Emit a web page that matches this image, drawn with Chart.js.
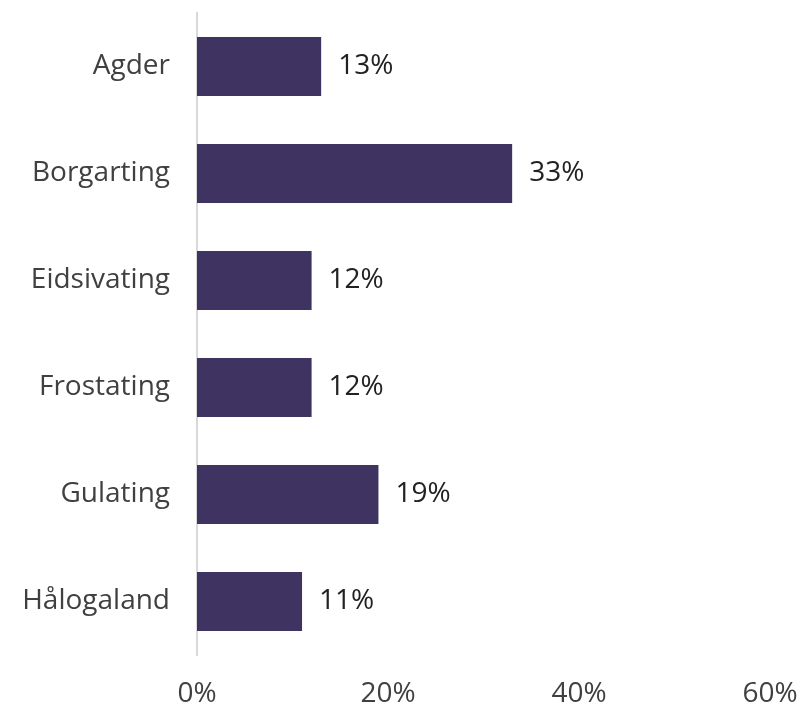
<!DOCTYPE html>
<html>
<head>
<meta charset="utf-8">
<script src="https://cdn.jsdelivr.net/npm/chart.js@4.4.0/dist/chart.umd.min.js"></script>
<style>
  html, body { margin: 0; padding: 0; background: #ffffff; }
  #wrap { width: 800px; height: 705px; }
</style>
</head>
<body>
<div id="wrap"><canvas id="barChart"></canvas></div>
<script>
const regions = ['Agder', 'Borgarting', 'Eidsivating', 'Frostating', 'Gulating', 'Hålogaland']
const shares = [13, 33, 12, 12, 19, 11]
const xTicks = [0, 20, 40, 60]

const FONT = '"Open Sans", sans-serif'

// draws "13%" etc. to the right of every bar
const valueLabels = {
    id: 'valueLabels',
    afterDatasetsDraw(chart) {
        const ctx = chart.ctx
        const meta = chart.getDatasetMeta(0)
        ctx.save()
        ctx.font = '28px ' + FONT
        ctx.fillStyle = '#222222'
        ctx.textAlign = 'left'
        ctx.textBaseline = 'middle'
        meta.data.forEach(function(bar, i) {
            ctx.fillText(shares[i] + '%', bar.x + 17, bar.y)
        })
        ctx.restore()
    }
}

const canvasBar = document.getElementById('barChart')
new Chart(canvasBar, {
    type: 'bar',
    data: {
        labels: regions,
        datasets: [{
            data: shares,
            backgroundColor: '#3f3461',
            categoryPercentage: 1,
            barPercentage: 0.55
        }]
    },
    options: {
        indexAxis: 'y',
        responsive: true,
        maintainAspectRatio: false,
        animation: false,
        layout: { padding: { top: 13, right: 30, left: 0, bottom: 0 } },
        plugins: {
            legend: { display: false },
            tooltip: { enabled: false }
        },
        scales: {
            x: {
                min: 0,
                max: 60,
                afterBuildTicks: function(scale) {
                    scale.ticks = xTicks.map(function(v) { return { value: v } })
                },
                grid: { display: false, drawTicks: false },
                border: { display: false },
                ticks: {
                    padding: 22,
                    color: '#404040',
                    font: { family: FONT, size: 28 },
                    callback: function(v) { return v + '%' }
                },
                afterFit: function(scale) {
                    scale.height = 50
                    scale.paddingLeft = 0
                    scale.paddingRight = 0
                }
            },
            y: {
                grid: { display: false, drawTicks: false },
                border: { display: true, color: '#d9d9d9', width: 2 },
                ticks: {
                    padding: 27,
                    color: '#404040',
                    font: { family: FONT, size: 28 }
                },
                afterFit: function(scale) {
                    scale.width = 197
                    scale.paddingTop = 0
                    scale.paddingBottom = 0
                }
            }
        }
    },
    plugins: [valueLabels]
})
</script>
</body>
</html>
